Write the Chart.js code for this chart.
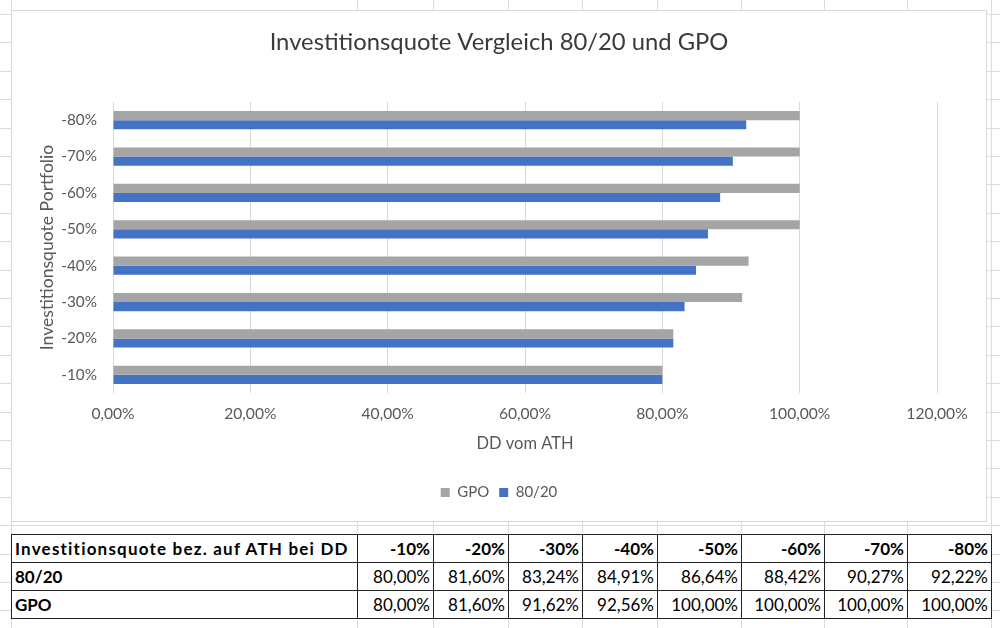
<!DOCTYPE html>
<html>
<head>
<meta charset="utf-8">
<script src="https://cdn.jsdelivr.net/npm/chart.js@4.4.1/dist/chart.umd.min.js"></script>
<style>
    body { margin: 0; width: 1000px; height: 628px; overflow: hidden; background: #fff; position: relative; font-family: Lato, sans-serif; }
    .hl { position: absolute; left: 0; width: 1000px; height: 1px; background: #dcdcdc; }
    .vl { position: absolute; top: 0; height: 628px; width: 1px; background: #dcdcdc; }
    #box { position: absolute; left: 11px; top: 10px; width: 976px; height: 512px; box-sizing: border-box; border: 1px solid #d9d9d9; background: #fff; }
    #box canvas { display: block; }
    #tbl { position: absolute; left: 11px; top: 534px; border-collapse: collapse; background: #fff; font-size: 17px; color: #000; }
    #tbl td { border: 1.5px solid #222; height: 27px; padding: 0 3px; text-align: right; white-space: nowrap; line-height: 27px; }
    #tbl td.lbl { text-align: left; font-weight: bold; }
    #tbl td.wide { letter-spacing: 1.2px; }
    #tbl tr.head td { font-weight: bold; }
</style>
</head>
<body>
<div id="sheet"></div>
<div id="box"><canvas id="quoteChart" width="974" height="510"></canvas></div>
<table id="tbl"></table>

<script>
// Werte aus der Tabelle
const categories = ['-10%', '-20%', '-30%', '-40%', '-50%', '-60%', '-70%', '-80%'];
const quote8020 = [80.00, 81.60, 83.24, 84.91, 86.64, 88.42, 90.27, 92.22];
const quoteGPO = [80.00, 81.60, 91.62, 92.56, 100.00, 100.00, 100.00, 100.00];
const xTickStep = 20;
const xMax = 120;

const tableHead = 'Investitionsquote bez. auf ATH bei DD';
const colWidths = [346, 76, 75, 74, 75, 84, 83, 83, 84];

const fmtPct = v => v.toFixed(2).replace('.', ',') + '%';

// Excel-Gitter im Hintergrund
const sheet = document.getElementById('sheet');
for (let y = 14; y < 628; y += 28.4) {
    const d = document.createElement('div');
    d.className = 'hl';
    d.style.top = Math.round(y) + 'px';
    sheet.appendChild(d);
}
[11, 357, 433, 508, 582, 657, 741, 824, 907, 991].forEach(x => {
    const d = document.createElement('div');
    d.className = 'vl';
    d.style.left = x + 'px';
    sheet.appendChild(d);
});

// Tabelle unter dem Diagramm
const tbl = document.getElementById('tbl');
tbl.innerHTML =
    '<colgroup>' + colWidths.map(w => `<col style="width:${w}px">`).join('') + '</colgroup>' +
    `<tr class="head"><td class="lbl wide">${tableHead}</td>${categories.map(c => `<td>${c}</td>`).join('')}</tr>` +
    `<tr><td class="lbl">80/20</td>${quote8020.map(v => `<td>${fmtPct(v)}</td>`).join('')}</tr>` +
    `<tr><td class="lbl">GPO</td>${quoteGPO.map(v => `<td>${fmtPct(v)}</td>`).join('')}</tr>`;

Chart.defaults.font.family = 'Lato, sans-serif';
Chart.defaults.color = '#595959';

const ctx = document.getElementById('quoteChart').getContext('2d');
new Chart(ctx, {
    type: 'bar',
    data: {
        labels: categories,
        datasets: [
            { label: 'GPO', data: quoteGPO, backgroundColor: '#a5a5a5', categoryPercentage: 0.5, barPercentage: 1 },
            { label: '80/20', data: quote8020, backgroundColor: '#4472c4', categoryPercentage: 0.5, barPercentage: 1 }
        ]
    },
    options: {
        indexAxis: 'y',
        responsive: false,
        animation: false,
        layout: { padding: { top: 0, bottom: 11, left: 0, right: 0 } },
        plugins: {
            title: {
                display: true,
                text: 'Investitionsquote Vergleich 80/20 und GPO',
                color: '#3a3a3a',
                font: { size: 23.8, weight: 'normal' },
                padding: { top: 16.7, bottom: 45.7 }
            },
            legend: {
                position: 'bottom',
                labels: { boxWidth: 9, boxHeight: 9, font: { size: 15 }, padding: 10 }
            },
            tooltip: { enabled: false }
        },
        scales: {
            x: {
                min: 0,
                max: xMax,
                ticks: { stepSize: xTickStep, padding: 11.6, font: { size: 15.6 }, callback: v => fmtPct(v) },
                grid: { color: '#d9d9d9', drawTicks: false },
                border: { display: false },
                title: { display: true, text: 'DD vom ATH', font: { size: 16.5 }, padding: { top: 0, bottom: 21.1 } },
                afterFit: s => { s.height = 82; }
            },
            y: {
                reverse: true,
                ticks: { padding: 16, font: { size: 15.3 } },
                grid: { display: false, drawTicks: false },
                border: { display: false },
                title: { display: true, text: 'Investitionsquote Portfolio', font: { size: 17.6 }, padding: { top: 25, bottom: 0 } },
                afterFit: s => { s.width = 101; }
            },
            yR: {
                position: 'right',
                type: 'category',
                labels: categories,
                ticks: { display: false },
                grid: { display: false, drawTicks: false },
                border: { display: false },
                afterFit: s => { s.width = 49; }
            }
        }
    }
});
</script>
</body>
</html>
